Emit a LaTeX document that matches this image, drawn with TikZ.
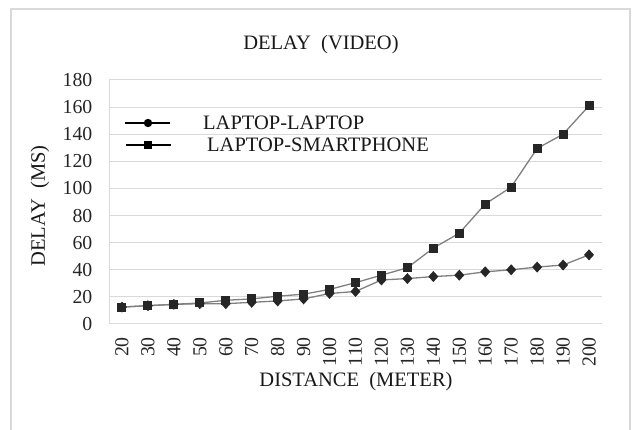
\documentclass[tikz,border=0pt]{standalone}
\usepackage{fontspec}
\setmainfont{Liberation Serif}
\definecolor{gridgray}{HTML}{D9D9D9}
\definecolor{framegray}{HTML}{D9D9D9}
\definecolor{linegray}{HTML}{808080}
\definecolor{markdark}{HTML}{262626}
\tikzset{
  ticklabel/.style={font=\fontsize{19.8}{19.8}\selectfont, inner sep=0pt, text=black!85},
  labeltext/.style={font=\fontsize{20.5}{20.5}\selectfont, inner sep=0pt, text=black!90},
  seriesline/.style={linegray, line width=1.3pt, line join=round},
  gridline/.style={gridgray, line width=1pt},
  legendline/.style={black, line width=1.6pt},
}
% category position and value-to-y mapping
\newcommand{\catx}[1]{109+25.9474*(#1+0.5)}
\newcommand{\valy}[1]{324-1.35556*(#1)}
\begin{document}
\begin{tikzpicture}[x=1pt,y=-1pt]
\useasboundingbox (0,0) rectangle (633,430);
\fill[white] (0,0) rectangle (633,430);
% chart frame
\draw[framegray, line width=2pt] (11,432) -- (11,9) -- (630,9) -- (630,432);

% title
\node[labeltext] (title) at (321,44.5) {DELAY\ \ (VIDEO)};

% horizontal grid and value labels
\foreach \v in {0,20,...,180} {
  \draw[gridline] (109,{\valy{\v}}) -- (602,{\valy{\v}});
  \node[ticklabel, anchor=east] (yt\v) at (92.5,{\valy{\v}}) {\v};
}
\draw[gridline] (109,{\valy{0}}) -- (109,{\valy{180}});

% category labels
\foreach \d [count=\i from 0] in {20,30,...,200} {
  \node[ticklabel, rotate=90, anchor=east] (xt\d) at ({\catx{\i}},337) {\d};
}

% axis titles
\node[labeltext, rotate=90] (ytitle) at (40,206) {DELAY\ \ (MS)};
\node[labeltext] (xtitle) at (356,382) {DISTANCE\ \ (METER)};

% LAPTOP-SMARTPHONE series
\draw[seriesline] ({\catx{0}},{\valy{12.5}})
  \foreach \v [count=\i from 0] in {12.5,13.5,14.5,15.5,17.5,18.5,20.5,22,25.5,30.5,36,41.5,56,67,88.5,101,129.5,140,161}
  { -- ({\catx{\i}},{\valy{\v}}) };
% LAPTOP-LAPTOP series
\draw[seriesline] ({\catx{0}},{\valy{12.5}})
  \foreach \v [count=\i from 0] in {12.5,13.5,14.5,15,15,16,17,18.5,22.5,24,32.5,33.5,35,36,38.5,40,42,43.5,51}
  { -- ({\catx{\i}},{\valy{\v}}) };

% markers
\foreach \v [count=\i from 0] in {12.5,13.5,14.5,15,15,16,17,18.5,22.5,24,32.5,33.5,35,36,38.5,40,42,43.5,51}
  \fill[markdark] ({\catx{\i}},{\valy{\v}}) ++(0,-5.5) -- ++(5,5.5) -- ++(-5,5.5) -- ++(-5,-5.5) -- cycle;
\foreach \v [count=\i from 0] in {12.5,13.5,14.5,15.5,17.5,18.5,20.5,22,25.5,30.5,36,41.5,56,67,88.5,101,129.5,140,161}
  \fill[markdark] ({\catx{\i}},{\valy{\v}}) ++(-4.5,-4.5) rectangle ++(9,9);

% legend
\draw[legendline] (125,123) -- (170,123);
\fill[black] (148,123) circle (4.2);
\node[labeltext, anchor=west] (leg1) at (203,123) {LAPTOP-LAPTOP};
\draw[legendline] (126,145) -- (171,145);
\fill[black] (144,141) rectangle (152,149);
\node[labeltext, anchor=west] (leg2) at (207,145) {LAPTOP-SMARTPHONE};
\end{tikzpicture}
\end{document}
